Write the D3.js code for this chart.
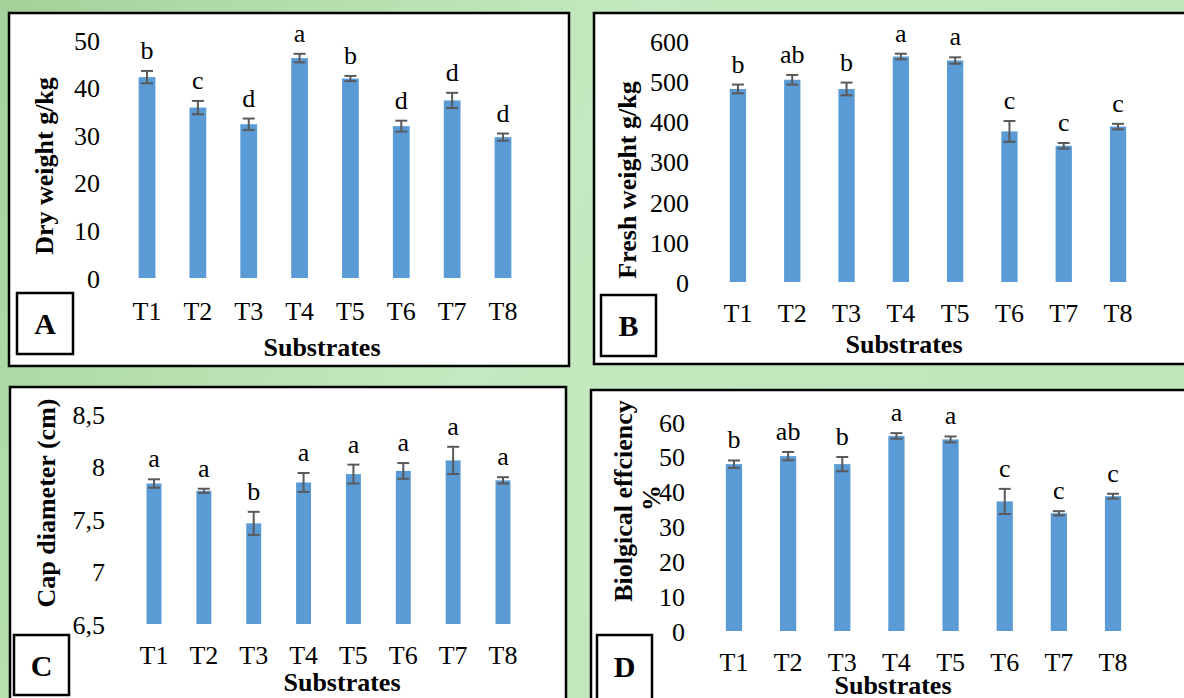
<!DOCTYPE html>
<html>
<head>
  <meta charset="UTF-8">
  <style>
    body { margin: 0; overflow: hidden; }
    svg { display: block; }
    text { font-family: "Liberation Serif", "Times New Roman", serif; fill: #000; }
  </style>
</head>
<body>
<svg></svg>
<script src="https://d3js.org/d3.v7.min.js"></script>
<script>

let width = 1184, height = 698;
const serif = "'Liberation Serif', 'Times New Roman', serif";

// data
const substrates = ["T1", "T2", "T3", "T4", "T5", "T6", "T7", "T8"];

const dryWeight = [42.2, 35.8, 32.3, 46.2, 41.9, 31.9, 37.3, 29.6];
const dryWeightErr = [1.3, 1.4, 1.2, 0.9, 0.55, 1.15, 1.6, 0.75];
const dryWeightLetters = ["b", "c", "d", "a", "b", "d", "d", "d"];
const dryWeightTicks = [0, 10, 20, 30, 40, 50];

const freshWeight = [482, 505, 482, 563, 553, 376, 340, 388];
const freshWeightErr = [11, 12, 16, 7, 8, 26, 7, 7];
const freshWeightLetters = ["b", "ab", "b", "a", "a", "c", "c", "c"];
const freshWeightTicks = [0, 100, 200, 300, 400, 500, 600];

const capDiameter = [7.84, 7.77, 7.46, 7.85, 7.93, 7.96, 8.06, 7.87];
const capDiameterErr = [0.04, 0.02, 0.11, 0.09, 0.09, 0.075, 0.13, 0.03];
const capDiameterLetters = ["a", "a", "b", "a", "a", "a", "a", "a"];
const capDiameterTicks = [6.5, 7, 7.5, 8, 8.5];
const capDiameterTickLabels = ["6,5", "7", "7,5", "8", "8,5"];

const bioEfficiency = [47.9, 50.2, 47.9, 56.0, 55.0, 37.2, 33.8, 38.7];
const bioEfficiencyErr = [1.05, 1.2, 2.05, 0.8, 0.85, 3.6, 0.6, 0.7];
const bioEfficiencyLetters = ["b", "ab", "b", "a", "a", "c", "c", "c"];
const bioEfficiencyTicks = [0, 10, 20, 30, 40, 50, 60];

let svg = d3.select("svg")
    .attr("width", width)
    .attr("height", height);

// green background
let defs = svg.append("defs");
let bg = defs.append("linearGradient").attr("id", "bg")
    .attr("x1", "0%").attr("y1", "0%").attr("x2", "100%").attr("y2", "30%");
bg.append("stop").attr("offset", "0%").attr("stop-color", "#a2d29a");
bg.append("stop").attr("offset", "25%").attr("stop-color", "#b4dfac");
bg.append("stop").attr("offset", "50%").attr("stop-color", "#c4e9c0");
bg.append("stop").attr("offset", "100%").attr("stop-color", "#bfe7ba");

svg.append("rect")
    .attr("width", width).attr("height", height)
    .attr("fill", "url(#bg)");

let panels = [
    {
        values: dryWeight, err: dryWeightErr, letters: dryWeightLetters,
        ticks: dryWeightTicks, tickLabels: null, domain: [0, 50],
        title: ["Dry weight g/kg"], tag: "A",
        frame: [9, 13, 560, 353], xr: [121.6, 528.4], yr: [278, 40], pad: 0.67,
        tickX: 100, titleX: 44, titleY: 166, xTickY: 311, subX: 322, subY: 347,
        tagBox: [17, 293, 56, 61]
    },
    {
        values: freshWeight, err: freshWeightErr, letters: freshWeightLetters,
        ticks: freshWeightTicks, tickLabels: null, domain: [0, 600],
        title: ["Fresh weight g/kg"], tag: "B",
        frame: [594, 13, 620, 351], xr: [710.8, 1145.2], yr: [282, 41.7], pad: 0.7,
        tickX: 689, titleX: 627, titleY: 180, xTickY: 313, subX: 904, subY: 344,
        tagBox: [601, 295, 55, 61]
    },
    {
        values: capDiameter, err: capDiameterErr, letters: capDiameterLetters,
        ticks: capDiameterTicks, tickLabels: capDiameterTickLabels, domain: [6.5, 8.5],
        title: ["Cap diameter (cm)"], tag: "C",
        frame: [10, 387, 556, 330], xr: [129.1, 527.9], yr: [624, 414.3], pad: 0.7,
        tickX: 105, titleX: 46, titleY: 503, xTickY: 655, subX: 342, subY: 682,
        tagBox: [14, 635, 55, 60]
    },
    {
        values: bioEfficiency, err: bioEfficiencyErr, letters: bioEfficiencyLetters,
        ticks: bioEfficiencyTicks, tickLabels: null, domain: [0, 60],
        title: ["Biolgical effciency", "%"], tag: "D",
        frame: [591, 390, 620, 330], xr: [706.9, 1140.1], yr: [631, 422], pad: 0.7,
        tickX: 685, titleX: 623, titleY: 501, xTickY: 662, subX: 893, subY: 685,
        tagBox: [597, 635, 55, 75]
    }
];

panels.forEach(p => {
    let g = svg.append("g");

    g.append("rect")
        .attr("x", p.frame[0]).attr("y", p.frame[1])
        .attr("width", p.frame[2]).attr("height", p.frame[3])
        .attr("fill", "#fff")
        .attr("stroke", "#000")
        .attr("stroke-width", 2.5);

    let x = d3.scaleBand()
        .domain(substrates)
        .range(p.xr)
        .paddingInner(p.pad)
        .paddingOuter(p.pad / 2);

    let y = d3.scaleLinear()
        .domain(p.domain)
        .range(p.yr);

    let rows = substrates.map((s, i) => ({ s: s, v: p.values[i], e: p.err[i], l: p.letters[i] }));

    // bars
    g.append("g").selectAll("rect")
        .data(rows)
        .enter()
            .append("rect")
            .attr("x", d => x(d.s))
            .attr("width", x.bandwidth())
            .attr("y", d => y(d.v))
            .attr("height", d => y(p.domain[0]) - y(d.v))
            .attr("fill", "#5b9bd5");

    // error bars
    let eb = g.append("g")
        .attr("stroke", "#595959")
        .attr("stroke-width", 2)
        .selectAll("g")
        .data(rows)
        .enter()
            .append("g")
            .attr("transform", d => "translate(" + (x(d.s) + x.bandwidth() / 2) + ",0)");
    eb.append("line")
        .attr("y1", d => y(d.v - d.e)).attr("y2", d => y(d.v + d.e));
    eb.append("line")
        .attr("x1", -6).attr("x2", 6)
        .attr("y1", d => y(d.v + d.e)).attr("y2", d => y(d.v + d.e));
    eb.append("line")
        .attr("x1", -6).attr("x2", 6)
        .attr("y1", d => y(d.v - d.e)).attr("y2", d => y(d.v - d.e));

    // significance letters
    g.append("g").selectAll("text")
        .data(rows)
        .enter()
            .append("text")
            .attr("x", d => x(d.s) + x.bandwidth() / 2)
            .attr("y", d => y(d.v + d.e) - 12)
            .attr("text-anchor", "middle")
            .style("font-family", serif)
            .style("font-size", "26px")
            .text(d => d.l);

    // y axis
    let yAxis = d3.axisLeft(y)
        .tickValues(p.ticks)
        .tickSize(0)
        .tickPadding(0)
        .tickFormat((d, i) => p.tickLabels ? p.tickLabels[i] : d);
    let ya = g.append("g")
        .attr("transform", "translate(" + p.tickX + ",0)")
        .attr("font-family", serif)
        .call(yAxis);
    ya.select(".domain").remove();
    ya.selectAll("text")
        .attr("dy", "0.35em")
        .style("font-size", "26px")
        .style("font-family", serif);

    // x axis
    let xa = g.append("g")
        .attr("transform", "translate(0," + p.xTickY + ")")
        .attr("font-family", serif)
        .call(d3.axisBottom(x).tickSize(0).tickPadding(0));
    xa.select(".domain").remove();
    xa.selectAll("text")
        .attr("y", 0)
        .attr("dy", "0.35em")
        .style("font-size", "26px")
        .style("font-family", serif);

    // axis titles
    g.append("text")
        .attr("transform", "translate(" + p.titleX + "," + p.titleY + ") rotate(-90)")
        .attr("text-anchor", "middle")
        .attr("dy", "0.35em")
        .style("font-family", serif)
        .style("font-size", "26px")
        .style("font-weight", "bold")
        .text(p.title[0]);
    if (p.title.length > 1) {
        g.append("text")
            .attr("transform", "translate(" + (p.titleX + 28) + "," + (p.titleY - 3) + ") rotate(-90)")
            .attr("text-anchor", "middle")
            .attr("dy", "0.35em")
            .style("font-family", serif)
            .style("font-size", "26px")
            .style("font-weight", "bold")
            .text(p.title[1]);
    }

    g.append("text")
        .attr("x", p.subX).attr("y", p.subY)
        .attr("text-anchor", "middle")
        .attr("dy", "0.35em")
        .style("font-family", serif)
        .style("font-size", "26px")
        .style("font-weight", "bold")
        .text("Substrates");

    // panel tag
    g.append("rect")
        .attr("x", p.tagBox[0]).attr("y", p.tagBox[1])
        .attr("width", p.tagBox[2]).attr("height", p.tagBox[3])
        .attr("fill", "#fff")
        .attr("stroke", "#000")
        .attr("stroke-width", 2.5);
    g.append("text")
        .attr("x", p.tagBox[0] + p.tagBox[2] / 2)
        .attr("y", Math.min(p.tagBox[1] + 31, p.tagBox[1] + p.tagBox[3] / 2))
        .attr("text-anchor", "middle")
        .attr("dy", "0.35em")
        .style("font-family", serif)
        .style("font-size", "30px")
        .style("font-weight", "bold")
        .text(p.tag);
});

</script>
</body>
</html>
